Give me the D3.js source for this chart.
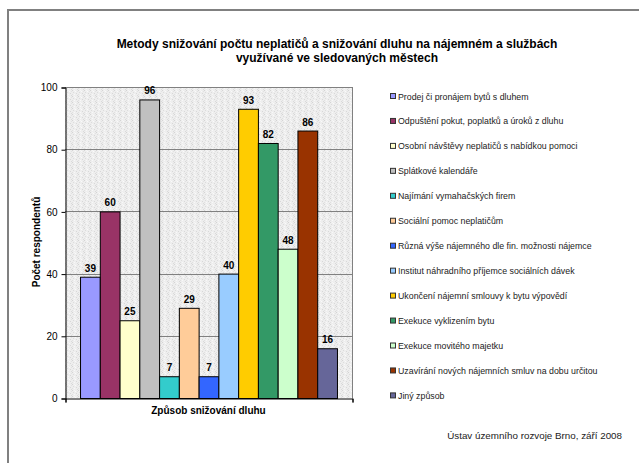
<!DOCTYPE html>
<html>
<head>
<meta charset="utf-8">
<script src="https://cdn.jsdelivr.net/npm/d3@7/dist/d3.min.js"></script>
<style>
  html, body { margin: 0; padding: 0; background: #fff; }
  svg { display: block; font-family: "Liberation Sans", Arial, sans-serif; }
</style>
</head>
<body>
<svg id="chart" width="639" height="463"></svg>
<script>
const titleLines = ["Metody snižování počtu neplatičů a snižování dluhu na nájemném a službách",
                    "využívané ve sledovaných městech"];
const category = "Způsob snižování dluhu";
const yLabel = "Počet respondentů";
const footer = "Ústav územního rozvoje Brno, září 2008";
const series = [
  "Prodej či pronájem bytů s dluhem",
  "Odpuštění pokut, poplatků a úroků z dluhu",
  "Osobní návštěvy neplatičů s nabídkou pomoci",
  "Splátkové kalendáře",
  "Najímání vymahačských firem",
  "Sociální pomoc neplatičům",
  "Různá výše nájemného dle fin. možnosti nájemce",
  "Institut náhradního příjemce sociálních dávek",
  "Ukončení nájemní smlouvy k bytu výpovědí",
  "Exekuce vyklizením bytu",
  "Exekuce movitého majetku",
  "Uzavírání nových nájemních smluv na dobu určitou",
  "Jiný způsob"
];
const values = [39, 60, 25, 96, 7, 29, 7, 40, 93, 82, 48, 86, 16];
const colors = ["#9999FF", "#993366", "#FFFFCC", "#C0C0C0", "#33CCCC", "#FFCC99", "#3366FF",
                "#99CCFF", "#FFCC00", "#339966", "#CCFFCC", "#993300", "#666699"];
const yTicks = [0, 20, 40, 60, 80, 100];

const svg = d3.select("#chart");

// texture pattern for plot background
const defs = svg.append("defs");
const pat = defs.append("pattern").attr("id", "stipple").attr("patternUnits", "userSpaceOnUse")
  .attr("width", 6).attr("height", 6);
pat.append("rect").attr("width", 6).attr("height", 6).attr("fill", "#eeeeee");
const speck = [[0,0,"#d4d4d4"],[3,1,"#fafafa"],[1,2,"#dcdcdc"],[4,3,"#d8d8d8"],[2,4,"#f8f8f8"],[5,5,"#dadada"],[0,4,"#e0e0e0"],[5,1,"#e2e2e2"],[2,0,"#f6f6f6"]];
speck.forEach(s => pat.append("rect").attr("x", s[0]).attr("y", s[1]).attr("width", 1).attr("height", 1).attr("fill", s[2]));

// outer frame (only top & left visible)
svg.append("rect").attr("x", 8).attr("y", 10).attr("width", 700).attr("height", 600)
  .attr("fill", "none").attr("stroke", "#808080").attr("stroke-width", 2);

// title
svg.append("text").attr("x", 337).attr("y", 48).attr("text-anchor", "middle")
  .attr("font-size", "12px").attr("font-weight", "bold").attr("fill", "#000")
  .selectAll("tspan").data(titleLines).join("tspan")
  .attr("x", 337).attr("dy", (d, i) => i === 0 ? 0 : 14).text(d => d);

const plot = {left: 65, right: 352, top: 87, bottom: 398};

const y = d3.scaleLinear().domain([0, 100]).range([plot.bottom, plot.top]);
const x0 = d3.scaleBand().domain([category]).range([plot.left, plot.right])
  .paddingInner(0).paddingOuter(0.0585);
const x1 = d3.scaleBand().domain(series).range([0, x0.bandwidth()]).padding(0);

// plot background
svg.append("rect").attr("x", plot.left).attr("y", plot.top)
  .attr("width", plot.right - plot.left).attr("height", plot.bottom - plot.top)
  .attr("fill", "url(#stipple)");

// gridlines
svg.append("g").selectAll("line").data(yTicks.filter(t => t > 0)).join("line")
  .attr("x1", plot.left).attr("x2", plot.right)
  .attr("y1", d => Math.round(y(d)) + 0.5).attr("y2", d => Math.round(y(d)) + 0.5)
  .attr("stroke", "#808080").attr("stroke-width", 1);
// right border
svg.append("line").attr("x1", plot.right + 0.5).attr("x2", plot.right + 0.5)
  .attr("y1", plot.top).attr("y2", plot.bottom).attr("stroke", "#808080");

// bars
const gBars = svg.append("g").attr("transform", `translate(${x0(category)},0)`);
gBars.selectAll("rect").data(values).join("rect")
  .attr("x", (d, i) => x1(series[i]) + 0.5)
  .attr("y", d => y(d) + 0.5)
  .attr("width", x1.bandwidth())
  .attr("height", d => plot.bottom - y(d))
  .attr("fill", (d, i) => colors[i])
  .attr("stroke", "#000").attr("stroke-width", 1);

// value labels
gBars.selectAll("text").data(values).join("text")
  .attr("x", (d, i) => x1(series[i]) + x1.bandwidth() / 2 + 0.5)
  .attr("y", d => y(d) - 5)
  .attr("text-anchor", "middle").attr("font-size", "10px").attr("font-weight", "bold")
  .attr("fill", "#000").text(d => d);

// y axis
const yAxis = d3.axisLeft(y).tickValues(yTicks).tickSize(4).tickPadding(4);
const gy = svg.append("g").attr("transform", `translate(${plot.left + 0.5},0.5)`).call(yAxis);
gy.select(".domain").attr("stroke", "#000");
gy.selectAll(".tick line").attr("stroke", "#000");
gy.selectAll(".tick text").attr("font-size", "10px").attr("font-family", "Liberation Sans, Arial, sans-serif").attr("fill", "#000");

// x axis
const xAxis = d3.axisBottom(d3.scaleLinear().domain([0, 1]).range([plot.left, plot.right]))
  .tickValues([0, 1]).tickSize(4).tickFormat("");
const gx = svg.append("g").attr("transform", `translate(0.5,${plot.bottom + 0.5})`).call(xAxis);
gx.select(".domain").attr("stroke", "#000");
gx.selectAll(".tick line").attr("stroke", "#000");

// axis titles
svg.append("text").attr("x", x0(category) + x0.bandwidth() / 2).attr("y", 414)
  .attr("text-anchor", "middle").attr("font-size", "10px").attr("font-weight", "bold")
  .text(category);
svg.append("text").attr("transform", "translate(40,242) rotate(-90)")
  .attr("text-anchor", "middle").attr("font-size", "10px").attr("font-weight", "bold")
  .text(yLabel);

// legend
const legend = svg.append("g").attr("transform", "translate(390,96)");
const items = legend.selectAll("g").data(series).join("g")
  .attr("transform", (d, i) => `translate(0,${i * 24.95})`);
items.append("rect").attr("x", 0.5).attr("y", -2.5).attr("width", 5).attr("height", 5)
  .attr("fill", (d, i) => colors[i]).attr("stroke", "#333").attr("stroke-width", 1);
items.append("text").attr("x", 8).attr("y", 3.5).attr("font-size", "8.8px").attr("fill", "#222")
  .text(d => d);

// footer
svg.append("text").attr("x", 622).attr("y", 439).attr("text-anchor", "end")
  .attr("font-size", "9.8px").attr("fill", "#222").text(footer);
</script>
</body>
</html>
